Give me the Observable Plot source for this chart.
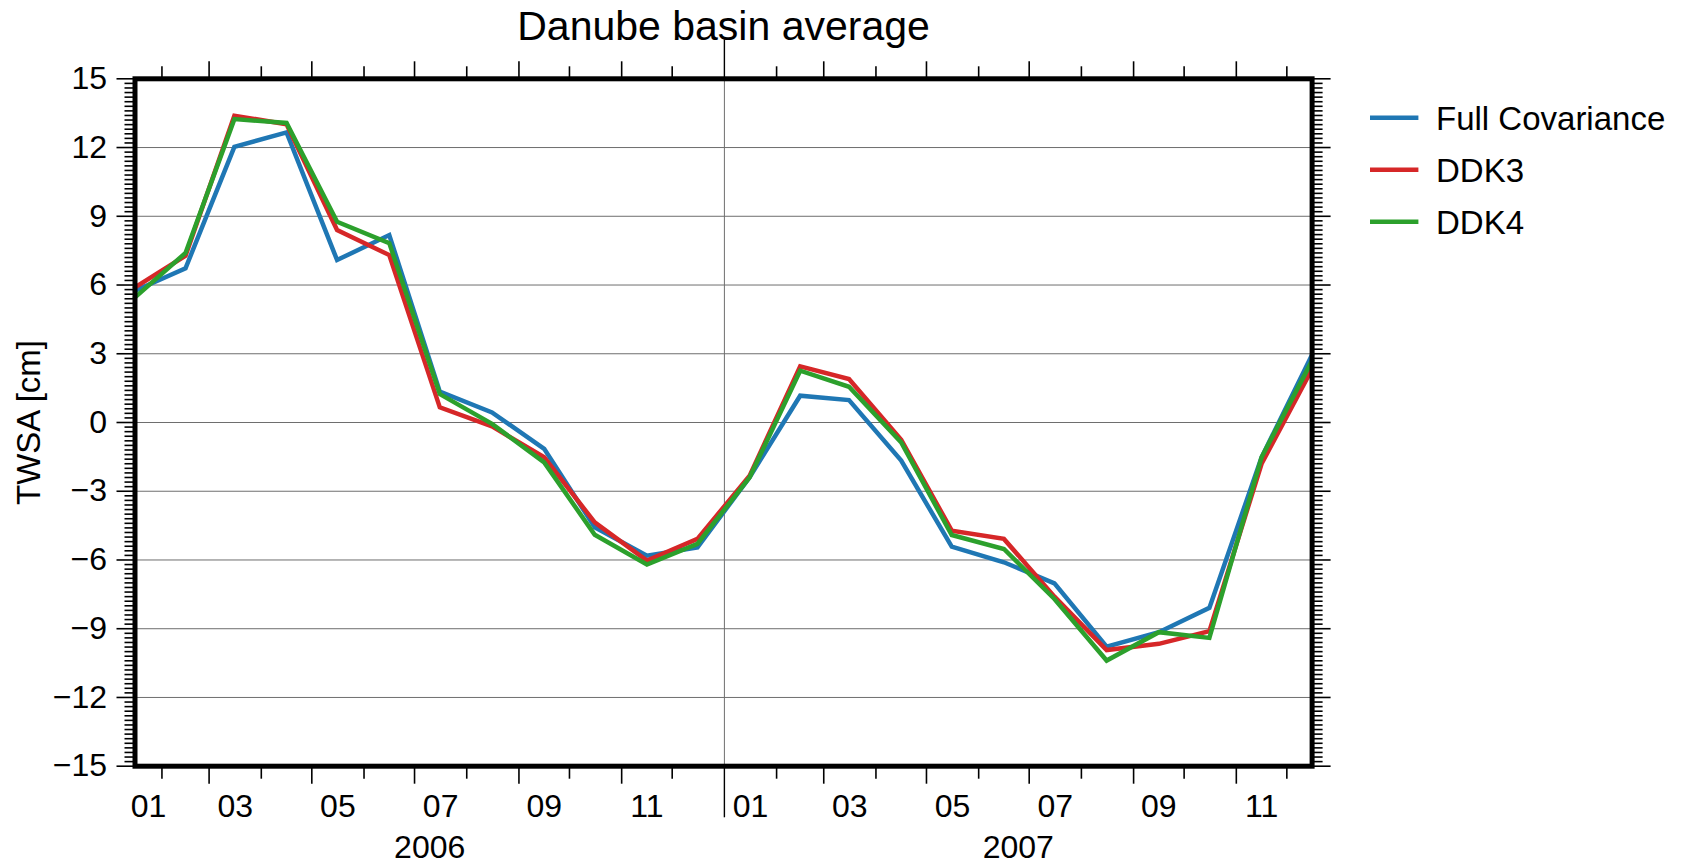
<!DOCTYPE html>
<html>
<head>
<meta charset="utf-8">
<script src="https://cdn.jsdelivr.net/npm/d3@7"></script>
<script src="https://cdn.jsdelivr.net/npm/@observablehq/plot@0.6"></script>
<style>
  html, body { margin: 0; padding: 0; background: #fff; }
  #chart { width: 1688px; height: 866px; }
</style>
</head>
<body>
<div id="chart"></div>
<script>
// ---------------- data ----------------
const dates = ["2006-01-16","2006-02-15","2006-03-16","2006-04-16","2006-05-16","2006-06-16",
               "2006-07-16","2006-08-16","2006-09-16","2006-10-16","2006-11-16","2006-12-16",
               "2007-01-16","2007-02-15","2007-03-16","2007-04-16","2007-05-16","2007-06-16",
               "2007-07-16","2007-08-16","2007-09-16","2007-10-16","2007-11-16","2007-12-16"];
const fullCovariance = [5.75, 6.73, 12.03, 12.66, 7.09, 8.18, 1.35, 0.44, -1.15, -4.57, -5.81, -5.45,
                        -2.39, 1.17, 0.98, -1.66, -5.42, -6.10, -7.02, -9.78, -9.15, -8.09, -1.52, 2.96];
const ddk3 = [5.90, 7.28, 13.39, 13.02, 8.40, 7.31, 0.66, -0.17, -1.52, -4.36, -6.03, -5.08,
              -2.32, 2.45, 1.90, -0.76, -4.72, -5.08, -7.60, -9.93, -9.66, -9.11, -1.80, 2.34];
const ddk4 = [5.46, 7.40, 13.24, 13.07, 8.76, 7.83, 1.24, -0.06, -1.74, -4.90, -6.20, -5.30,
              -2.39, 2.26, 1.56, -0.87, -4.91, -5.52, -7.70, -10.39, -9.15, -9.40, -1.52, 2.70];
const seriesNames = ["Full Covariance", "DDK3", "DDK4"];
const seriesColors = ["#1f77b4", "#d62728", "#2ca02c"];
const yMajorTicks = [-15, -12, -9, -6, -3, 0, 3, 6, 9, 12, 15];
const monthLabels = ["01", "03", "05", "07", "09", "11"];
const years = [2006, 2007];
const titleText = "Danube basin average";
const yLabelText = "TWSA [cm]";

// ---------------- derived tables ----------------
const parse = d3.utcParse("%Y-%m-%d");
const seriesValues = [fullCovariance, ddk3, ddk4];
const data = [];
seriesNames.forEach((name, s) => {
  dates.forEach((d, i) => data.push({series: name, date: parse(d), value: seriesValues[s][i]}));
});
const d0 = parse(dates[0]), d1 = parse(dates[dates.length - 1]);
const yMinorTicks = d3.range(-75, 76).filter(k => k % 15 !== 0).map(k => k / 5);
const yGrid = yMajorTicks.filter(v => v > -15 && v < 15);

const monthStarts = d3.utcMonth.range(d0, d1);
const yearStarts = monthStarts.filter(d => d.getUTCMonth() === 0);
const longTicks = monthStarts.filter(d => d.getUTCMonth() % 2 === 0 && d.getUTCMonth() !== 0);
const shortTicks = monthStarts.filter(d => d.getUTCMonth() % 2 === 1);

const clipMid = (a, b) => {
  const lo = Math.max(+a, +d0), hi = Math.min(+b, +d1);
  return new Date((lo + hi) / 2);
};
const monthLabelData = [];
years.forEach(y => monthLabels.forEach(m => {
  const mi = +m - 1;
  monthLabelData.push({label: m, x: clipMid(Date.UTC(y, mi, 1), Date.UTC(y, mi + 1, 1))});
}));
const yearLabelData = years.map(y => ({label: String(y), x: clipMid(Date.UTC(y, 0, 1), Date.UTC(y + 1, 0, 1))}));

// ---------------- layout ----------------
const W = 1688, H = 866;
const frameL = 134.5, frameR = 1311.6, frameT = 78.3, frameB = 765.7;
const plotH = frameB - frameT;
const FONT = "'Liberation Sans', Arial, Helvetica, sans-serif";
const tickW = 1.6;

const chart = Plot.plot({
  width: W,
  height: H,
  marginLeft: frameL,
  marginRight: W - frameR,
  marginTop: frameT,
  marginBottom: H - frameB,
  style: {fontFamily: FONT, fontSize: "32px", background: "white", color: "black", overflow: "visible"},
  x: {type: "utc", domain: [d0, d1]},
  y: {domain: [-15, 15]},
  color: {domain: seriesNames, range: seriesColors},
  marks: [
    Plot.gridY(yGrid, {stroke: "#6e6e6e", strokeOpacity: 1, strokeWidth: 1}),
    Plot.ruleX(yearStarts, {stroke: "#6e6e6e", strokeWidth: 1}),
    Plot.ruleX(yearStarts, {stroke: "black", strokeWidth: 1.4, insetTop: -39, insetBottom: plotH}),
    Plot.ruleX(yearStarts, {stroke: "black", strokeWidth: 1.4, insetTop: plotH, insetBottom: -51.6}),
    Plot.line(data, {x: "date", y: "value", z: "series", stroke: "series", strokeWidth: 4.5,
                     strokeLinejoin: "miter", strokeMiterlimit: 4}),
    Plot.frame({stroke: "black", strokeWidth: 5}),
    // y axes
    Plot.axisY({anchor: "left", ticks: yMajorTicks, tickSize: 18, tickPadding: 10, label: null,
                tickFormat: d3.format("d"), fontSize: 32, strokeWidth: tickW}),
    Plot.axisY({anchor: "left", ticks: yMinorTicks, tickSize: 10, label: null,
                tickFormat: () => "", strokeWidth: tickW}),
    Plot.axisY({anchor: "right", ticks: yMajorTicks, tickSize: 18, label: null,
                tickFormat: () => "", strokeWidth: tickW}),
    Plot.axisY({anchor: "right", ticks: yMinorTicks, tickSize: 10, label: null,
                tickFormat: () => "", strokeWidth: tickW}),
    // x axes (ticks only)
    Plot.axisX({anchor: "top", ticks: longTicks, tickSize: 18, label: null, tickFormat: () => "", strokeWidth: tickW}),
    Plot.axisX({anchor: "top", ticks: shortTicks, tickSize: 13, label: null, tickFormat: () => "", strokeWidth: tickW}),
    Plot.axisX({anchor: "bottom", ticks: longTicks, tickSize: 18, label: null, tickFormat: () => "", strokeWidth: tickW}),
    Plot.axisX({anchor: "bottom", ticks: shortTicks, tickSize: 13, label: null, tickFormat: () => "", strokeWidth: tickW}),
    // month and year annotations
    Plot.text(monthLabelData, {x: "x", text: "label", frameAnchor: "bottom", lineAnchor: "bottom",
                               dy: 51, fontSize: 32, fill: "black"}),
    Plot.text(yearLabelData, {x: "x", text: "label", frameAnchor: "bottom", lineAnchor: "bottom",
                              dy: 92, fontSize: 32, fill: "black"}),
    // title and y label
    Plot.text([titleText], {text: d => d, frameAnchor: "top", lineAnchor: "bottom", dy: -39,
                            fontSize: 41, fill: "black"}),
    Plot.text([yLabelText], {text: d => d, frameAnchor: "left", rotate: -90, lineAnchor: "bottom",
                             textAnchor: "middle", dx: 39.3 - frameL, fontSize: 33, fill: "black"})
  ]
});
document.getElementById("chart").appendChild(chart);

// ---------------- legend (outside the frame, right) ----------------
const svg = d3.select(chart);
const lg = svg.append("g").attr("font-family", FONT).attr("font-size", 33).attr("text-anchor", "start");
const legX0 = frameR + 58.4, legX1 = frameR + 106.8, legTextX = frameR + 124.4;
const legY0 = 117.7, legStep = 52;
seriesNames.forEach((name, i) => {
  const y = legY0 + i * legStep;
  lg.append("line").attr("x1", legX0).attr("x2", legX1).attr("y1", y).attr("y2", y)
    .attr("stroke", seriesColors[i]).attr("stroke-width", 4.5);
  lg.append("text").attr("x", legTextX).attr("y", y).attr("dy", "0.36em")
    .attr("text-anchor", "start").attr("fill", "black").text(name);
});
</script>
</body>
</html>
